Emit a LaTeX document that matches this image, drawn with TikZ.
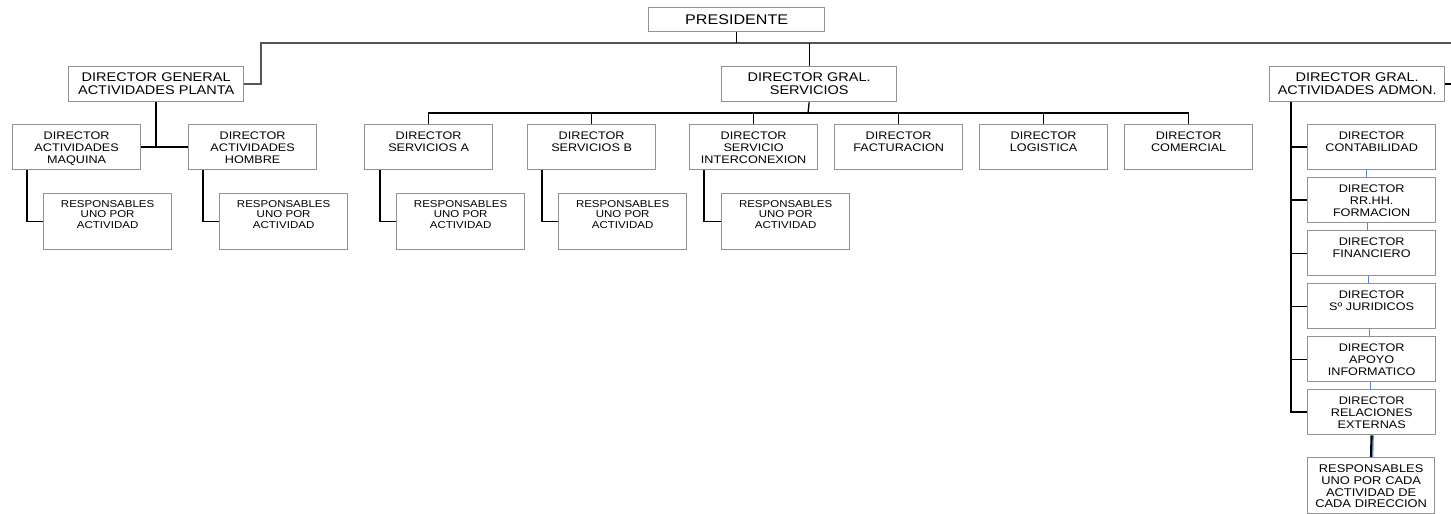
\documentclass[tikz,border=0pt]{standalone}
\usepackage{fontspec}
\setmainfont{Liberation Sans}[FakeStretch=1.15]
\usetikzlibrary{calc}
\definecolor{boxgray}{RGB}{145,145,145}
\definecolor{linkblue}{RGB}{80,130,240}
\definecolor{busgray}{RGB}{85,85,85}

\begin{document}
\begin{tikzpicture}[x=1bp, y=-1bp,
  box/.style={draw=boxgray, line width=1.3bp, anchor=north west, align=center, inner xsep=2bp, inner ysep=0pt, text=black},
  topbox/.style={box, text width=172bp, text height=17bp, text depth=7bp, font=\fontsize{14bp}{15bp}\selectfont},
  genbox/.style={box, text width=171bp, text height=15bp, text depth=20bp, font=\fontsize{12.6bp}{13bp}\selectfont},
  dirbox/.style={box, text width=124bp, text height=15bp, text depth=30bp, font=\fontsize{11bp}{12bp}\selectfont},
  resbox/.style={box, text width=124bp, text height=14bp, text depth=42bp, font=\fontsize{10bp}{10.3bp}\selectfont},
  finbox/.style={box, text width=123bp, text height=15bp, text depth=41bp, font=\fontsize{11.2bp}{11.7bp}\selectfont},
  link/.style={draw=black, line width=1.3bp},
  heavylink/.style={draw=black, line width=2bp},
  buslink/.style={draw=busgray, line width=1.4bp},
  bluelink/.style={draw=linkblue, line width=1.1bp}
]
  \useasboundingbox (0,0) rectangle (1451,514);

  \node[topbox] (pres) at (648,7) {PRESIDENTE};
  \node[genbox] (planta) at (68,66) {DIRECTOR GENERAL\\ACTIVIDADES PLANTA};
  \node[genbox] (serv) at (721,66) {DIRECTOR GRAL.\\SERVICIOS};
  \node[genbox] (admon) at (1269,66) {DIRECTOR GRAL.\\ACTIVIDADES ADMON.};

  \node[dirbox] (maq) at (12,124) {DIRECTOR\\ACTIVIDADES\\MAQUINA};
  \node[dirbox] (hom) at (188,124) {DIRECTOR\\ACTIVIDADES\\HOMBRE};
  \node[resbox] (rmaq) at (43,193) {RESPONSABLES\\UNO POR\\ACTIVIDAD};
  \node[resbox] (rhom) at (219,193) {RESPONSABLES\\UNO POR\\ACTIVIDAD};

  \node[dirbox] (sa) at (364,124) {DIRECTOR\\SERVICIOS A};
  \node[dirbox] (sb) at (527,124) {DIRECTOR\\SERVICIOS B};
  \node[dirbox] (inter) at (689,124) {DIRECTOR\\SERVICIO\\INTERCONEXION};
  \node[dirbox] (fac) at (834,124) {DIRECTOR\\FACTURACION};
  \node[dirbox] (logi) at (979,124) {DIRECTOR\\LOGISTICA};
  \node[dirbox] (com) at (1124,124) {DIRECTOR\\COMERCIAL};
  \node[resbox] (rsa) at (396,193) {RESPONSABLES\\UNO POR\\ACTIVIDAD};
  \node[resbox] (rsb) at (558,193) {RESPONSABLES\\UNO POR\\ACTIVIDAD};
  \node[resbox] (rinter) at (721,193) {RESPONSABLES\\UNO POR\\ACTIVIDAD};

  \node[dirbox] (cont) at (1307,124) {DIRECTOR\\CONTABILIDAD};
  \node[dirbox] (rrhh) at (1307,177) {DIRECTOR\\RR.HH.\\FORMACION};
  \node[dirbox] (fin) at (1307,230) {DIRECTOR\\FINANCIERO};
  \node[dirbox] (jur) at (1307,283) {DIRECTOR\\Sº JURIDICOS};
  \node[dirbox] (apo) at (1307,336) {DIRECTOR\\APOYO\\INFORMATICO};
  \node[dirbox] (rel) at (1307,389) {DIRECTOR\\RELACIONES\\EXTERNAS};
  \node[finbox] (rfin) at (1307,457) {RESPONSABLES\\UNO POR CADA\\ACTIVIDAD DE\\CADA DIRECCION};

  \coordinate (busL) at (261,43);
  \coordinate (busR) at (1451,43);
  \coordinate (busS) at (808,113);
  \coordinate (spine) at ([xshift=22bp]admon.south west);

  \draw[buslink] (planta.east) -| (busL) -- (busR);
  \draw[link] (pres.south) -- (pres.south |- busL);
  \draw[link] (serv.north) -- (serv.north |- busL);
  \draw[link] (admon.east) -- (admon.east -| busR);

  \draw[heavylink] (planta.south) -- (planta.south |- maq.east);
  \draw[link] (maq.east) -- (hom.west);
  \draw[link] ([xshift=15bp]maq.south west) |- (rmaq.west);
  \draw[link] ([xshift=15bp]hom.south west) |- (rhom.west);

  \draw[link] (serv.south) -- (busS);
  \draw[link] (sa.north) |- (busS) -| (com.north);
  \draw[link] (sb.north) -- (sb.north |- busS);
  \draw[link] (inter.north) -- (inter.north |- busS);
  \draw[link] (fac.north) -- (fac.north |- busS);
  \draw[link] (logi.north) -- (logi.north |- busS);
  \draw[link] ([xshift=16bp]sa.south west) |- (rsa.west);
  \draw[link] ([xshift=15bp]sb.south west) |- (rsb.west);
  \draw[link] ([xshift=15bp]inter.south west) |- (rinter.west);

  \draw[heavylink] (spine) |- (rel.west);
  \draw[link] (cont.west) -- (cont.west -| spine);
  \draw[link] (rrhh.west) -- (rrhh.west -| spine);
  \draw[link] (fin.west) -- (fin.west -| spine);
  \draw[link] (jur.west) -- (jur.west -| spine);
  \draw[link] (apo.west) -- (apo.west -| spine);
  \draw[bluelink] ([xshift=-5bp]cont.south) -- ([xshift=-5bp]rrhh.north);
  \draw[bluelink] ([xshift=-4bp]rrhh.south) -- ([xshift=-4bp]fin.north);
  \draw[bluelink] ([xshift=-3bp]fin.south) -- ([xshift=-3bp]jur.north);
  \draw[bluelink] ([xshift=-2bp]jur.south) -- ([xshift=-2bp]apo.north);
  \draw[bluelink] ([xshift=-1bp]apo.south) -- ([xshift=-1bp]rel.north);
  \draw[draw=black, line width=2.4bp] (rel.south) -- (rfin.north);
  \draw[bluelink] ([xshift=1.6bp]rel.south) -- ([xshift=1.6bp]rfin.north);
\end{tikzpicture}
\end{document}
